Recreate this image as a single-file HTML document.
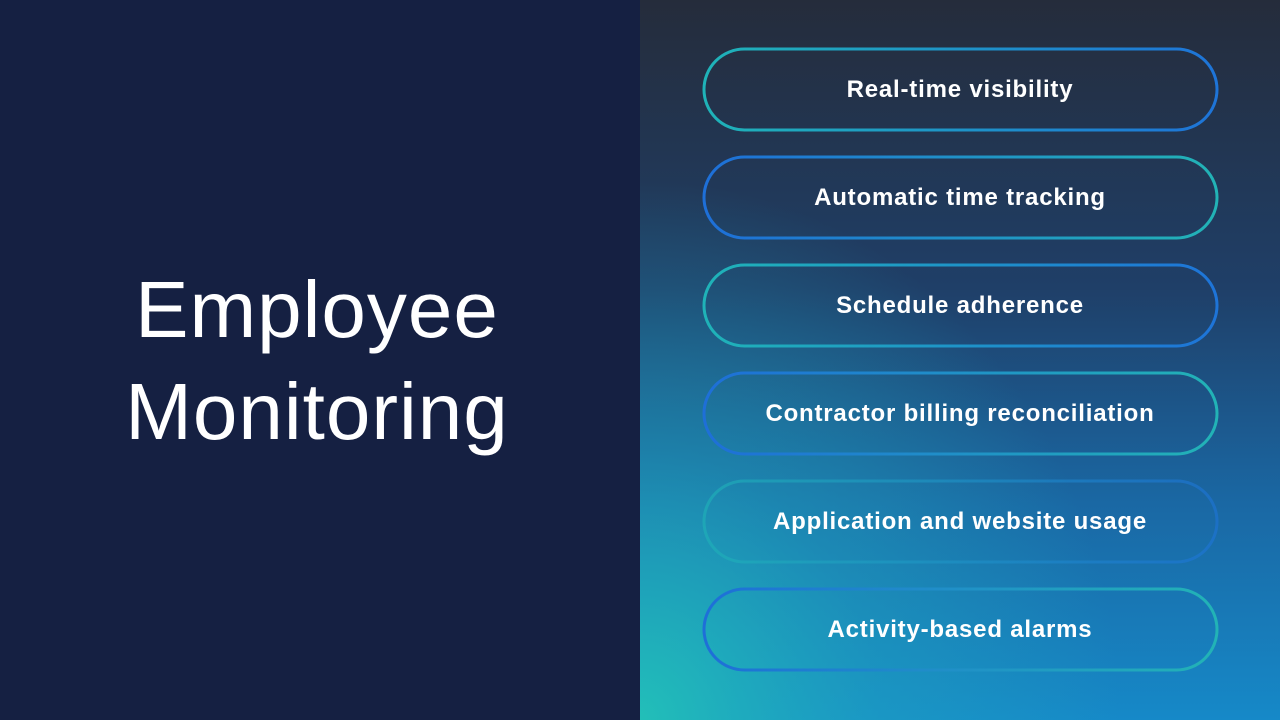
<!DOCTYPE html>
<html><head><meta charset="utf-8"><style>
html,body{margin:0;padding:0;width:1280px;height:720px;overflow:hidden;background:#152042;font-family:"Liberation Sans",sans-serif}
.left{position:absolute;left:0;top:0;width:640px;height:720px;background:#152042}
.title{position:absolute;left:0;width:634px;text-align:center;color:#fff;font-size:80px;letter-spacing:1px;line-height:102px;top:259px}
svg{position:absolute;left:640px;top:0}
</style></head><body>
<div class="left"><div class="title">Employee<br>Monitoring</div></div>
<svg width="640" height="720" viewBox="640 0 640 720">
<defs>
<linearGradient id="bg" x1="0" y1="0" x2="0" y2="1">
<stop offset="0" stop-color="#252c3b"/><stop offset="0.4" stop-color="#1f3f68"/><stop offset="0.7" stop-color="#1a68a4"/><stop offset="1" stop-color="#1689c8"/>
</linearGradient>
<radialGradient id="teal" cx="0" cy="1" r="0.75">
<stop offset="0" stop-color="#22bfb8" stop-opacity="1"/><stop offset="0.5" stop-color="#1fa8c0" stop-opacity="0.45"/><stop offset="1" stop-color="#1fa8c0" stop-opacity="0"/>
</radialGradient>
<linearGradient id="tb" x1="0" y1="0" x2="1" y2="0"><stop offset="0" stop-color="#1fb3b8"/><stop offset="1" stop-color="#1e74d8"/></linearGradient>
<linearGradient id="bt" x1="0" y1="0" x2="1" y2="0"><stop offset="0" stop-color="#1e6fd8"/><stop offset="1" stop-color="#22b3b6"/></linearGradient>
</defs>
<rect x="640" y="0" width="640" height="720" fill="url(#bg)"/>
<rect x="640" y="0" width="640" height="720" fill="url(#teal)"/>
<g fill="none" stroke-width="3">
<rect x="704" y="49" width="513" height="81" rx="40.5" stroke="url(#tb)"/>
<rect x="704" y="157" width="513" height="81" rx="40.5" stroke="url(#bt)"/>
<rect x="704" y="265" width="513" height="81" rx="40.5" stroke="url(#tb)"/>
<rect x="704" y="373" width="513" height="81" rx="40.5" stroke="url(#bt)"/>
<rect x="704" y="481" width="513" height="81" rx="40.5" stroke="url(#tb)" opacity="0.6"/>
<rect x="704" y="589" width="513" height="81" rx="40.5" stroke="url(#bt)"/>
</g>
<g fill="#fff" font-family="Liberation Sans, sans-serif" font-weight="bold" font-size="24" letter-spacing="0.8" text-anchor="middle">
<text x="960" y="97">Real-time visibility</text>
<text x="960" y="205">Automatic time tracking</text>
<text x="960" y="313">Schedule adherence</text>
<text x="960" y="421">Contractor billing reconciliation</text>
<text x="960" y="529">Application and website usage</text>
<text x="960" y="637">Activity-based alarms</text>
</g>
</svg>
</body></html>
